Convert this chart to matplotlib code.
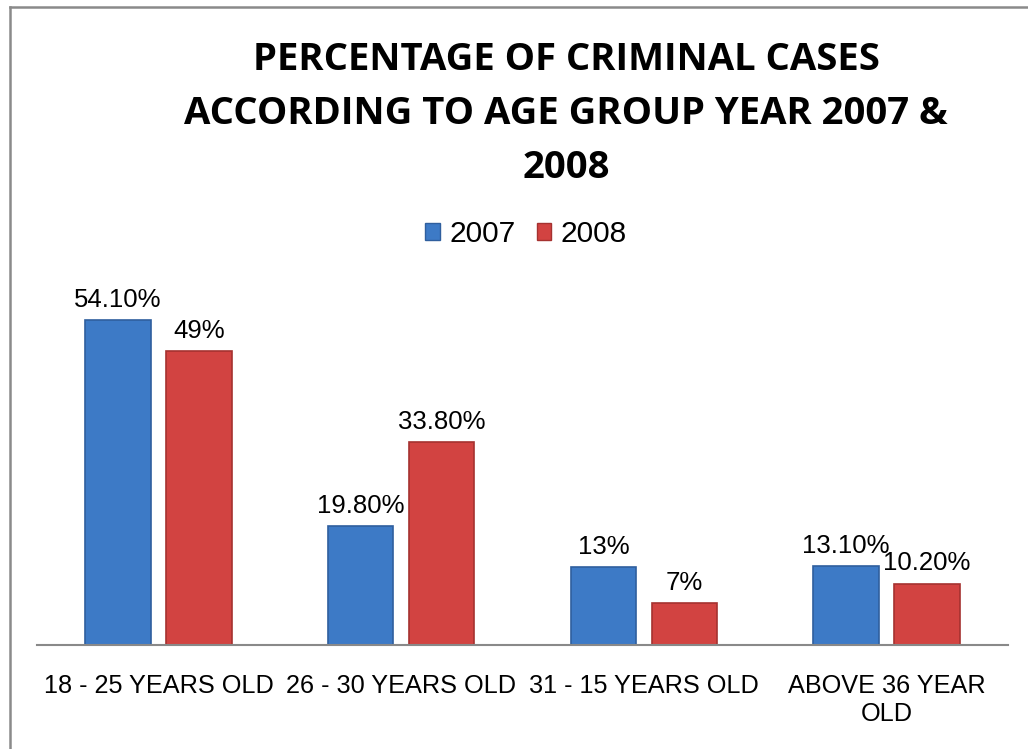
import matplotlib
matplotlib.use("Agg")
import matplotlib.pyplot as plt
from matplotlib.lines import Line2D
import numpy as np

categories = ["18 - 25 YEARS OLD", "26 - 30 YEARS OLD", "31 - 15 YEARS OLD", "ABOVE 36 YEAR\nOLD"]
series_names = ["2007", "2008"]
values_2007 = [54.10, 19.80, 13.0, 13.10]
values_2008 = [49.0, 33.80, 7.0, 10.20]
labels_2007 = ["54.10%", "19.80%", "13%", "13.10%"]
labels_2008 = ["49%", "33.80%", "7%", "10.20%"]
title_lines = ["PERCENTAGE OF CRIMINAL CASES", "ACCORDING TO AGE GROUP YEAR 2007 &", "2008"]

blue = "#3D7AC6"
blue_edge = "#2F5F9E"
red = "#D24341"
red_edge = "#A53230"

plt.rcParams['font.family'] = ['Liberation Sans', 'DejaVu Sans']

W, H = 1028, 749
fig = plt.figure(figsize=(W / 100, H / 100), dpi=100)

# axes: x from 37 to 1008 px, baseline at y=645, top at y=285
ax = fig.add_axes([37 / W, (H - 645) / H, (1008 - 37) / W, (645 - 285) / H])
x = np.arange(len(categories))
bw = 0.27
off = 0.167
b1 = ax.bar(x - off, values_2007, bw, color=blue, edgecolor=blue_edge, linewidth=1.2, label=series_names[0])
b2 = ax.bar(x + off, values_2008, bw, color=red, edgecolor=red_edge, linewidth=1.2, label=series_names[1])
ax.set_xlim(-0.5, len(categories) - 0.5)
ax.set_ylim(0, 60)
for s in ["top", "right", "left"]:
    ax.spines[s].set_visible(False)
ax.spines["bottom"].set_color("#898989")
ax.spines["bottom"].set_linewidth(1.5)
ax.set_yticks([])
ax.set_xticks(x)
ax.set_xticklabels(categories, fontsize=18.2, linespacing=1.2)
ax.tick_params(axis="x", length=0, pad=21)

ax.bar_label(b1, labels=labels_2007, padding=6, fontsize=18.5)
ax.bar_label(b2, labels=labels_2008, padding=6, fontsize=18.5)

# title, three lines (baselines in pixels from top)
for line, base in zip(title_lines, [70, 124, 178]):
    fig.text(566 / W, 1 - base / H, line, ha="center", va="baseline", fontsize=27.5,
             fontweight="bold", family=["Open Sans", "DejaVu Sans"])

handles = [plt.Rectangle((0, 0), 1, 1, facecolor=blue, edgecolor=blue_edge),
           plt.Rectangle((0, 0), 1, 1, facecolor=red, edgecolor=red_edge)]
fig.legend(handles, series_names, loc="center", bbox_to_anchor=(526 / W, 1 - 234 / H), ncol=2,
           frameon=False, fontsize=21.5, handlelength=0.5, handleheight=0.5,
           handletextpad=0.3, columnspacing=0.7)

# outer border (left and top visible)
fig.add_artist(Line2D([9.5 / W, 9.5 / W], [0, 1 - 6.5 / H], color="#8A8A8A", linewidth=1.8, transform=fig.transFigure))
fig.add_artist(Line2D([9.5 / W, 1], [1 - 6.5 / H, 1 - 6.5 / H], color="#8A8A8A", linewidth=1.8, transform=fig.transFigure))

fig.savefig("out.png", dpi=100)
